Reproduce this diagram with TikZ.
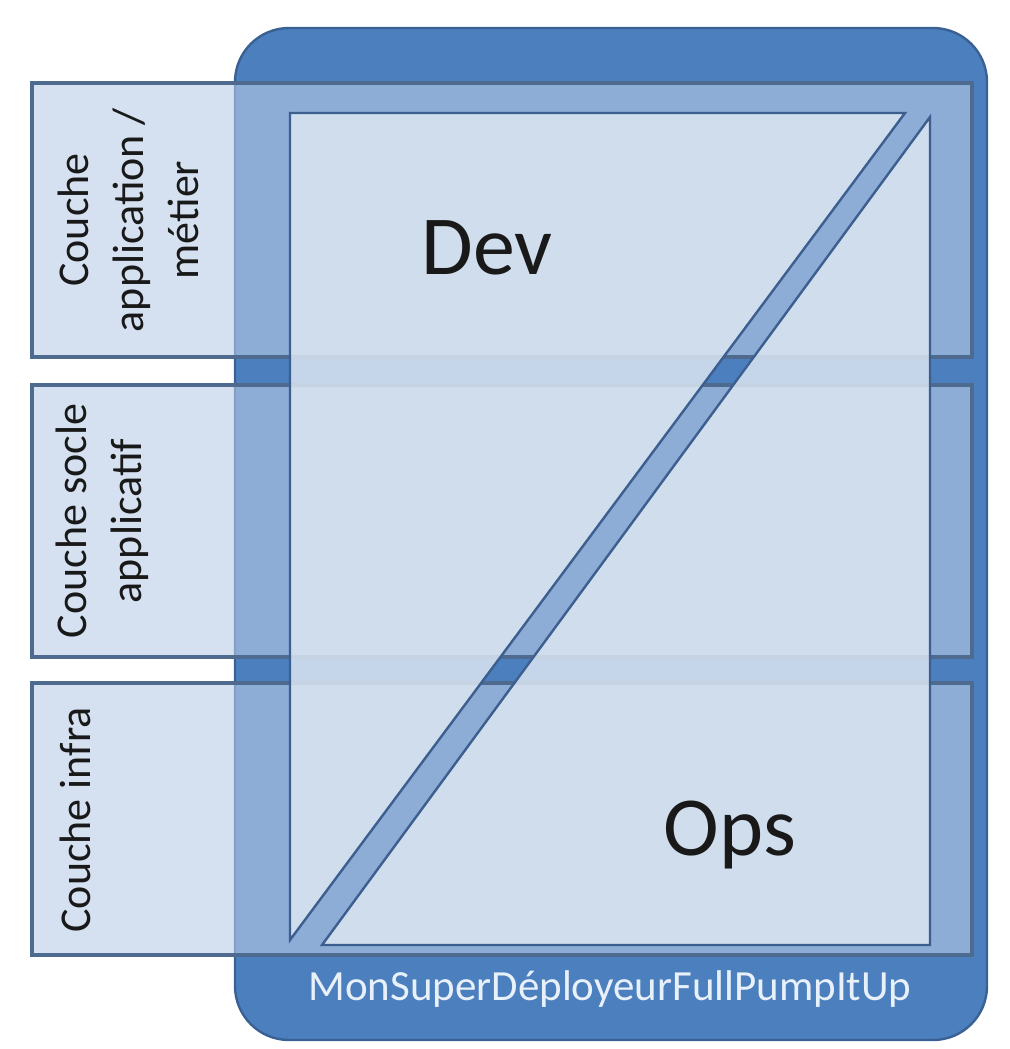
\documentclass[tikz,border=0pt]{standalone}
\usepackage{fontspec}
\setmainfont{Carlito}
\definecolor{boxblue}{RGB}{76,127,190}
\definecolor{rimblue}{RGB}{58,97,148}
\definecolor{layerblue}{RGB}{185,203,230}
\definecolor{edgeblue}{RGB}{79,106,143}
\definecolor{paleblue}{RGB}{220,230,242}
\definecolor{lineblue}{RGB}{60,95,143}
\definecolor{toolwhite}{RGB}{232,240,250}
\begin{document}
\begin{tikzpicture}[x=0.5pt,y=-0.5pt,
   outer/.style={draw=rimblue,line width=1.2pt,fill=boxblue,rounded corners=27pt},
   layer/.style={draw=edgeblue,line width=1.6pt,fill=layerblue,fill opacity=.6},
   half/.style={draw=lineblue,line width=1.2pt,fill=paleblue,fill opacity=.85},
   lbl/.style={rotate=90,align=center,font=\fontsize{22}{27.5}\selectfont,text=black!90},
   big/.style={font=\fontsize{42}{50}\selectfont,text=black!90}]
   \useasboundingbox (0,0) rectangle (1009,1049);

   \draw[outer] (235,28) rectangle (987,1040);
   \foreach \t/\b in {83/357,385/657,683/955}
      \draw[layer] (32,\t) rectangle (972,\b);

   \draw[half] (290,113) -- (905,113) -- (290,940) -- cycle;
   \draw[half] (322,945) -- (930,945) -- (930,117) -- cycle;

   \node[lbl] (app)   at (128,220) {Couche\\application /\\métier};
   \node[lbl] (socle) at (102,521) {Couche socle\\applicatif};
   \node[lbl] (infra) at (75,820)  {Couche infra};

   \node[big] (dev) at (487,248) {Dev};
   \node[big] (ops) at (730,835) {Ops};
%   \node (mid) at () {};

   \node[font=\fontsize{21.5}{26}\selectfont,text=toolwhite] (tool) at (610,989) {MonSuperDéployeurFullPumpItUp};
\end{tikzpicture}
\end{document}
